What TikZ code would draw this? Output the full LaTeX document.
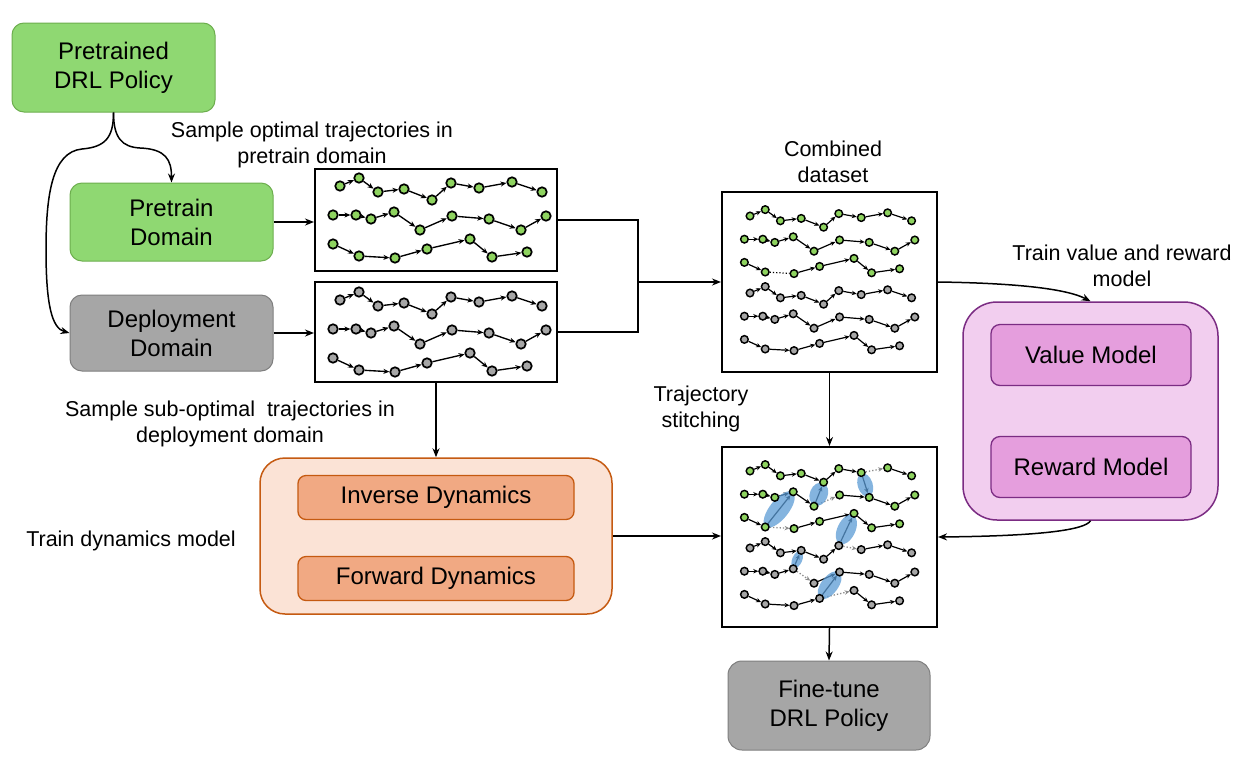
\documentclass[tikz,border=0pt]{standalone}
\usepackage{fontspec}
\setmainfont{Liberation Sans}
\usetikzlibrary{arrows.meta,shapes.geometric,calc}
\definecolor{grnF}{HTML}{8FD872}
\definecolor{grnD}{HTML}{6DAE4E}
\definecolor{gryF}{HTML}{A6A6A6}
\definecolor{gryD}{HTML}{7F7F7F}
\definecolor{pinkF}{HTML}{F2CEEF}
\definecolor{pinkI}{HTML}{E59EDD}
\definecolor{purD}{HTML}{7B2C83}
\definecolor{peachF}{HTML}{FBE3D6}
\definecolor{peachI}{HTML}{F1A983}
\definecolor{oraD}{HTML}{C55A11}
\definecolor{nodeG}{HTML}{8ED35F}
\definecolor{nodeR}{HTML}{A6A6A6}
\definecolor{ellB}{HTML}{5B9BD5}
\definecolor{dotG}{HTML}{8C8C8C}

\pgfdeclarelayer{mid}\pgfdeclarelayer{front}\pgfsetlayers{main,mid,front}

\newcommand\boxfont{\fontsize{24}{29}\selectfont}
\newcommand\labfont{\fontsize{21.5}{26}\selectfont}

\def\rowA{0/0,19/-8,38/6,64/3,92/14,111/-3,139/2,172/-4,202/6}
\def\rowB{-7/29,16/29,31/33,54/26,80/44,112/30,149/33,181/44,206/30}
\def\rowC{-7/58,19/70,55/72,87/63,130/53,152/71,187/66}

\newcommand\mkrow[6]{\foreach \px/\py [count=\k] in #2 {\node[#6] (#1-\k) at ({#3+#5*\px},{#4+#5*\py}) {};}}
\newcommand\mkedges[4]{\foreach \k in {2,...,#2}{\pgfmathtruncatemacro\prv{\k-1}\ifnum\prv=#3\relax\else\draw[#4] (#1-\prv) -- (#1-\k);\fi}}
\newcommand\mkell[5]{\path let \p1=(#2), \p2=(#3), \n1={atan2(\y2-\y1,\x2-\x1)} in node[ell, minimum width=#4pt, minimum height=#5pt, rotate=\n1] (#1) at ($(#2)!.5!(#3)$) {};}

\tikzset{
 tnG/.style={circle, draw=black, line width=1.7pt, fill=nodeG, minimum size=9.5pt, inner sep=0pt},
 tnR/.style={tnG, fill=nodeR},
 snG/.style={tnG, minimum size=7.6pt, line width=1.45pt},
 snR/.style={snG, fill=nodeR},
 te/.style={line width=1.35pt, -{Stealth[length=6pt,width=5pt]}},
 se/.style={line width=1.2pt, -{Stealth[length=5pt,width=4.4pt]}},
 sd/.style={dotG, line width=1.3pt, dotted, -{Stealth[length=5pt,width=4.4pt]}},
 ell/.style={ellipse, fill=ellB, opacity=.75, inner sep=0pt},
 gbox/.style={draw=grnD, fill=grnF, line width=1pt, rounded corners=12pt, align=center, font=\boxfont, inner sep=0pt},
 ybox/.style={gbox, draw=gryD, fill=gryF},
 tbox/.style={draw=black, line width=2pt, inner sep=0pt},
 arr/.style={line width=1.5pt, -{Stealth[length=9pt,width=7pt]}},
 lab/.style={align=center, font=\labfont, inner sep=0pt},
}

\begin{document}
\begin{tikzpicture}[x=1pt,y=-1pt]
\useasboundingbox (0,0) rectangle (1233,758);
\fill[white] (0,0) rectangle (1233,758);

% boxes
\node[gbox, minimum width=203pt, minimum height=89pt] (pre) at (113.5,67.5) {Pretrained\\DRL Policy};
\node[gbox, minimum width=203pt, minimum height=78pt] (pd) at (171.5,222) {Pretrain\\Domain};
\node[ybox, minimum width=203pt, minimum height=76pt] (dd) at (171.5,333) {Deployment\\Domain};
\node[tbox, minimum width=242pt, minimum height=102pt] (b1) at (436,220) {};
\node[tbox, minimum width=242pt, minimum height=100pt] (b2) at (436,332) {};
\node[tbox, minimum width=215pt, minimum height=180pt] (cd) at (829.5,282) {};
\node[tbox, minimum width=215pt, minimum height=180pt] (st) at (829.5,537) {};
\node[ybox, rounded corners=14pt, minimum width=202pt, minimum height=89pt] (ft) at (829,705.5) {Fine-tune\\DRL Policy};

\node[draw=purD, fill=pinkF, line width=1.5pt, rounded corners=34pt, minimum width=255pt, minimum height=218pt] (vo) at (1090.5,411) {};
\node[gbox, draw=purD, fill=pinkI, line width=1.3pt, rounded corners=9pt, minimum width=200pt, minimum height=61pt] (vm) at (1091,355) {Value Model};
\node[gbox, draw=purD, fill=pinkI, line width=1.3pt, rounded corners=9pt, minimum width=200pt, minimum height=61pt] (rm) at (1091,467) {Reward Model};

\node[draw=oraD, fill=peachF, line width=1.5pt, rounded corners=25pt, minimum width=352pt, minimum height=156pt] (dyo) at (436,536) {};
\node[gbox, draw=oraD, fill=peachI, line width=1.3pt, rounded corners=8pt, minimum width=276pt, minimum height=44pt] (inv) at (436,497.5) {Inverse Dynamics};
\node[gbox, draw=oraD, fill=peachI, line width=1.3pt, rounded corners=8pt, minimum width=276pt, minimum height=44pt] (fwd) at (436,578.5) {Forward Dynamics};

% labels
\node[lab] (l1) at (312,145) {Sample optimal trajectories in\\pretrain domain};
\node[lab] (l2) at (230,424) {Sample sub-optimal\ \ trajectories in\\deployment domain};
\node[lab] (l3) at (833,162) {Combined\\dataset};
\node[lab] (l4) at (1122,266) {Train value and reward\\model};
\node[lab] (l5) at (701,409) {Trajectory\\stitching};
\node[lab] (l6) at (131,541) {Train dynamics model};

% trajectory nodes
\begin{pgfonlayer}{front}
\mkrow{b1-1}{\rowA}{340}{186}{1}{tnG}
\mkrow{b1-2}{\rowB}{340}{186}{1}{tnG}
\mkrow{b1-3}{\rowC}{340}{186}{1}{tnG}
\mkrow{b2-1}{\rowA}{340}{300}{1}{tnR}
\mkrow{b2-2}{\rowB}{340}{300}{1}{tnR}
\mkrow{b2-3}{\rowC}{340}{300}{1}{tnR}
\mkrow{c-1}{\rowA}{750}{216}{0.8}{snG}
\mkrow{c-2}{\rowB}{750}{216}{0.8}{snG}
\mkrow{c-3}{\rowC}{750}{216}{0.8}{snG}
\mkrow{c-4}{\rowA}{750}{293}{0.8}{snR}
\mkrow{c-5}{\rowB}{750}{293}{0.8}{snR}
\mkrow{c-6}{\rowC}{750}{293}{0.8}{snR}
\mkrow{s-1}{\rowA}{750}{471}{0.8}{snG}
\mkrow{s-2}{\rowB}{750}{471}{0.8}{snG}
\mkrow{s-3}{\rowC}{750}{471}{0.8}{snG}
\mkrow{s-4}{\rowA}{750}{548}{0.8}{snR}
\mkrow{s-5}{\rowB}{750}{548}{0.8}{snR}
\mkrow{s-6}{\rowC}{750}{548}{0.8}{snR}
\end{pgfonlayer}

% trajectory edges
\mkedges{b1-1}{9}{0}{te}
\mkedges{b1-2}{9}{0}{te}
\mkedges{b1-3}{7}{0}{te}
\mkedges{b2-1}{9}{0}{te}
\mkedges{b2-2}{9}{0}{te}
\mkedges{b2-3}{7}{0}{te}
\mkedges{c-1}{9}{0}{se}
\mkedges{c-2}{9}{0}{se}
\mkedges{c-3}{7}{2}{se}
\draw[black, line width=1.2pt, dotted] (c-3-2) -- (c-3-3);
\mkedges{c-4}{9}{0}{se}
\mkedges{c-5}{9}{0}{se}
\mkedges{c-6}{7}{0}{se}
\mkedges{s-1}{9}{7}{se}
\mkedges{s-2}{9}{5}{se}
\mkedges{s-3}{7}{2}{se}
\mkedges{s-4}{9}{6}{se}
\mkedges{s-5}{9}{4}{se}
\mkedges{s-6}{7}{4}{se}
\draw[sd] (s-1-7) -- (s-1-8);
\draw[sd] (s-2-5) -- (s-2-6);
\draw[sd] (s-3-2) -- (s-3-3);
\draw[sd] (s-4-6) -- (s-4-7);
\draw[sd] (s-5-4) -- (s-5-5);
\draw[sd] (s-6-4) -- (s-6-5);
\draw[se] (s-1-7) -- (s-2-7);
\draw[se] (s-2-5) -- (s-1-5);
\draw[se] (s-3-2) -- (s-2-4);
\draw[se] (s-4-6) -- (s-3-5);
\draw[se] (s-5-4) -- (s-4-4);
\draw[se] (s-6-4) -- (s-5-6);

\begin{pgfonlayer}{mid}
\mkell{e1}{s-3-2}{s-2-4}{44}{19}
\mkell{e2}{s-2-5}{s-1-5}{24}{18}
\mkell{e3}{s-1-7}{s-2-7}{24}{15}
\mkell{e4}{s-4-6}{s-3-5}{32}{18}
\mkell{e5}{s-5-4}{s-4-4}{18}{10}
\mkell{e6}{s-6-4}{s-5-6}{33}{17}
\end{pgfonlayer}

% connectors
\draw[arr] (pre.south) .. controls (113.5,138) and (122,147) .. (140,148) .. controls (166,149) and (171.5,160) .. (pd.north);
\draw[arr] (pre.south) .. controls (113.5,138) and (105,147) .. (82,149) .. controls (52,152) and (46,195) .. (46,250) .. controls (46,305) and (52,328) .. (dd.west);
\draw[arr] (pd.east) -- (pd.east -| b1.west);
\draw[arr] (dd.east) -- (dd.east -| b2.west);
\coordinate (mx) at (638,282);
\draw[line width=1.5pt] (b1.east) -| (mx) |- (b2.east);
\draw[arr] (mx) -- (cd.west);
\draw[arr] (b2.south) -- (dyo.north);
\draw[arr] (cd.south) -- (st.north);
\draw[arr] (dyo.east) -- (dyo.east -| st.west);
\draw[arr] (cd.east) .. controls (1010,283) and (1065,288) .. (vo.north);
\draw[arr] (vo.south) .. controls (1085,530) and (1040,536) .. (st.east);
\draw[arr] (st.south) -- (ft.north);
\end{tikzpicture}
\end{document}
